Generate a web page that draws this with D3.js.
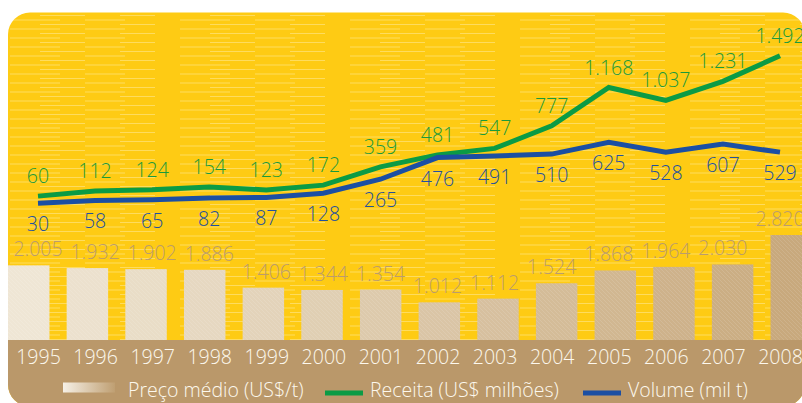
<!DOCTYPE html>
<html>
<head>
<meta charset="utf-8">
<script src="https://cdn.jsdelivr.net/npm/d3@7"></script>
<style>
	body { margin: 0; background: #fff; }
	svg { display: block; font-family: 'Open Sans', sans-serif; font-weight: 300; }
</style>
</head>
<body>
<svg id="chart" width="802" height="403"></svg>
<script>
var years = [1995, 1996, 1997, 1998, 1999, 2000, 2001, 2002, 2003, 2004, 2005, 2006, 2007, 2008];
var preco = [2005, 1932, 1902, 1886, 1406, 1344, 1354, 1012, 1112, 1524, 1868, 1964, 2030, 2820];
var receita = [60, 112, 124, 154, 123, 172, 359, 481, 547, 777, 1168, 1037, 1231, 1492];
var volume = [30, 58, 65, 82, 87, 128, 265, 476, 491, 510, 625, 528, 607, 529];
var legendLabels = ['Preço médio (US$/t)', 'Receita (US$ milhões)', 'Volume (mil t)'];

var yellow = '#fecb14';
var band = '#ba986a';
var green = '#0b9b45';
var blue = '#1b4fa3';
var fontSize = '19.5px';

var fmt = d3.formatLocale({decimal: ',', thousands: '.', grouping: [3], currency: ['', '']}).format(',');

var svg = d3.select('#chart');
var defs = svg.append('defs');

defs.append('clipPath')
	.attr('id', 'panel-clip')
	.append('rect')
	.attr('x', 8).attr('y', 12.5)
	.attr('width', 797).attr('height', 394)
	.attr('rx', 22);

// faint light streaks on the yellow
var streaks = defs.append('pattern')
	.attr('id', 'streaks')
	.attr('patternUnits', 'userSpaceOnUse')
	.attr('width', 170).attr('height', 9);
[[10, 2, 50], [85, 2, 40], [40, 6.5, 45], [120, 6.5, 35]].forEach(function(s) {
	streaks.append('line')
		.attr('x1', s[0]).attr('x2', s[0] + s[2])
		.attr('y1', s[1]).attr('y2', s[1])
		.attr('stroke', '#fff3b8')
		.attr('stroke-opacity', 0.45)
		.attr('stroke-width', 1);
});

// diagonal hatch on bars
var hatch = defs.append('pattern')
	.attr('id', 'hatch')
	.attr('patternUnits', 'userSpaceOnUse')
	.attr('width', 4).attr('height', 4);
hatch.append('path')
	.attr('d', 'M-1,-1 L5,5 M-1,3 L1,5 M3,-1 L5,1')
	.attr('stroke', '#fff')
	.attr('stroke-opacity', 0.14)
	.attr('stroke-width', 0.8);

var grad = defs.append('linearGradient')
	.attr('id', 'swatch');
grad.append('stop').attr('offset', '0%').attr('stop-color', '#f6f0e6');
grad.append('stop').attr('offset', '100%').attr('stop-color', '#bf9f72');

var panel = svg.append('g').attr('clip-path', 'url(#panel-clip)');

panel.append('rect')
	.attr('x', 0).attr('y', 0)
	.attr('width', 820).attr('height', 420)
	.attr('fill', yellow);
panel.append('rect')
	.attr('x', 0).attr('y', 0)
	.attr('width', 820).attr('height', 340)
	.attr('fill', 'url(#streaks)');
panel.append('rect')
	.attr('x', 0).attr('y', 340)
	.attr('width', 820).attr('height', 80)
	.attr('fill', band);

// scales
var xBar = d3.scaleBand()
	.domain(years)
	.range([8, 812])
	.paddingInner(0.293)
	.paddingOuter(0);

var x = d3.scalePoint()
	.domain(years)
	.range([38, 780]);

var yBar = d3.scaleLinear()
	.domain([0, 2820])
	.range([340, 235]);

var yRec = d3.scaleLinear()
	.domain([0, 1500])
	.range([202, 55]);

var yVol = d3.scaleLinear()
	.domain([0, 625])
	.range([206.4, 142.3]);

var barColor = d3.scaleLinear()
	.domain([0, years.length - 1])
	.range(['#efe6d5', '#c8a97d']);

var bars = panel.selectAll('.bar')
	.data(years)
	.enter()
	.append('g')
	.attr('class', 'bar');

bars.append('rect')
	.attr('x', d => xBar(d))
	.attr('y', (d, i) => yBar(preco[i]))
	.attr('width', xBar.bandwidth())
	.attr('height', (d, i) => yBar(0) - yBar(preco[i]))
	.attr('fill', (d, i) => barColor(i));
bars.append('rect')
	.attr('x', d => xBar(d))
	.attr('y', (d, i) => yBar(preco[i]))
	.attr('width', xBar.bandwidth())
	.attr('height', (d, i) => yBar(0) - yBar(preco[i]))
	.attr('fill', 'url(#hatch)');

panel.selectAll('.bar-label')
	.data(years)
	.enter()
	.append('text')
	.attr('class', 'bar-label')
	.attr('x', d => x(d))
	.attr('y', (d, i) => yBar(preco[i]) - 9)
	.attr('text-anchor', 'middle')
	.style('font-size', fontSize)
	.style('fill', '#bb9c6c')
	.text((d, i) => fmt(preco[i]));

var recLine = d3.line()
	.x((d, i) => x(years[i]))
	.y(d => yRec(d));
var volLine = d3.line()
	.x((d, i) => x(years[i]))
	.y(d => yVol(d));

panel.append('path')
	.attr('d', recLine(receita))
	.attr('fill', 'none')
	.attr('stroke', green)
	.attr('stroke-width', 5);
panel.append('path')
	.attr('d', volLine(volume))
	.attr('fill', 'none')
	.attr('stroke', blue)
	.attr('stroke-width', 5);

panel.selectAll('.rec-label')
	.data(receita)
	.enter()
	.append('text')
	.attr('class', 'rec-label')
	.attr('x', (d, i) => x(years[i]))
	.attr('y', d => yRec(d) - 13)
	.attr('text-anchor', 'middle')
	.style('font-size', fontSize)
	.style('fill', '#1a9a3c')
	.text(d => fmt(d));

panel.selectAll('.vol-label')
	.data(volume)
	.enter()
	.append('text')
	.attr('class', 'vol-label')
	.attr('x', (d, i) => x(years[i]))
	.attr('y', d => yVol(d) + 28)
	.attr('text-anchor', 'middle')
	.style('font-size', fontSize)
	.style('fill', '#22509f')
	.text(d => fmt(d));

// year axis on the brown band
var xAxis = d3.axisBottom(x).tickSize(0).tickPadding(0);
var axis = panel.append('g')
	.attr('transform', 'translate(0, 350)')
	.call(xAxis);
axis.select('.domain').remove();
axis.selectAll('text')
	.attr('dy', '0.71em')
	.style('font-family', "'Open Sans', sans-serif")
	.style('font-weight', 300)
	.style('font-size', fontSize)
	.style('fill', '#fdf8ee');

// legend
var legend = svg.append('g');
legend.append('rect')
	.attr('x', 63).attr('y', 382.5)
	.attr('width', 52).attr('height', 10)
	.attr('fill', 'url(#swatch)');
legend.append('rect')
	.attr('x', 325).attr('y', 390.5)
	.attr('width', 38).attr('height', 5)
	.attr('fill', green);
legend.append('rect')
	.attr('x', 583).attr('y', 390.5)
	.attr('width', 38).attr('height', 5)
	.attr('fill', blue);

legend.selectAll('.legend-text')
	.data(legendLabels)
	.enter()
	.append('text')
	.attr('class', 'legend-text')
	.attr('x', (d, i) => [128, 370, 628][i])
	.attr('y', 397)
	.style('font-size', fontSize)
	.style('fill', '#fdf8ee')
	.text(d => d);
</script>
</body>
</html>
